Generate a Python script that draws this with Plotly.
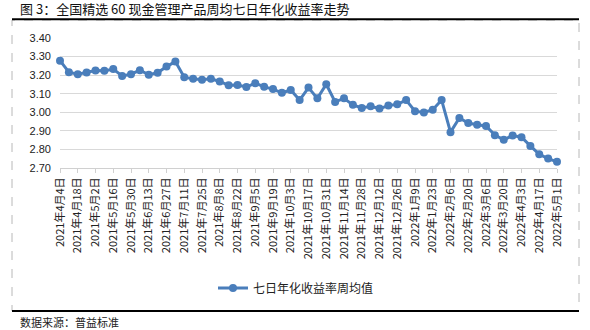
import pandas as pd
import plotly.graph_objects as go

# Weekly dates (Sundays) 2021-04-04 .. 2022-05-01
weeks = pd.date_range("2021-04-04", "2022-05-01", freq="7D")
categories = [f"{d.year}年{d.month}月{d.day}日" for d in weeks]

# Weekly average of 7-day annualised yield (%)
yield_avg = [
    3.278, 3.216, 3.205, 3.214, 3.225, 3.223, 3.233, 3.196, 3.205, 3.227,
    3.202, 3.213, 3.246, 3.273, 3.189, 3.180, 3.175, 3.180, 3.166, 3.145,
    3.147, 3.136, 3.157, 3.137, 3.125, 3.105, 3.120, 3.066, 3.133, 3.075,
    3.151, 3.056, 3.075, 3.040, 3.023, 3.032, 3.020, 3.036, 3.043, 3.066,
    3.006, 2.999, 3.014, 3.066, 2.893, 2.969, 2.942, 2.933, 2.926, 2.877,
    2.852, 2.875, 2.866, 2.819, 2.774, 2.751, 2.733,
]

y_ticks = [2.70, 2.80, 2.90, 3.00, 3.10, 3.20, 3.30, 3.40]

series_name = "七日年化收益率周均值"
title_text = "图 3：全国精选 60 现金管理产品周均七日年化收益率走势"
source_text = "数据来源：普益标准"

W, H = 590, 330
L, R, T, B = 60, 557, 38, 168  # plot area in pixels


def px(x):
    return (x - L) / (R - L)


def py(y):
    return (B - y) / (B - T)


CJK = "Noto Sans CJK SC"
LAT = "Liberation Sans"
BLUE = "#4a7ebb"

fig = go.Figure()
fig.add_trace(go.Scatter(
    x=categories, y=yield_avg, mode="lines+markers", name=series_name,
    line=dict(color=BLUE, width=3),
    marker=dict(color=BLUE, size=8),
    cliponaxis=False,
))

fig.update_layout(
    width=W, height=H,
    margin=dict(l=L, r=W - R, t=T, b=H - B),
    paper_bgcolor="white", plot_bgcolor="white",
    showlegend=True,
    legend=dict(
        orientation="h", x=px(296), xanchor="center", y=py(288), yanchor="middle",
        font=dict(family=CJK, size=12, color="#222"),
        bgcolor="rgba(0,0,0,0)",
    ),
    title=dict(
        text=title_text, xref="container", yref="container",
        x=20 / W, xanchor="left", y=1 - 9 / H, yanchor="middle",
        font=dict(family=CJK, size=13, color="#111"),
    ),
)

fig.update_xaxes(
    type="category", range=[0, len(categories) - 1],
    tickvals=categories[::2], ticktext=categories[::2],
    tickangle=-90, tickfont=dict(family=CJK, size=11, color="#222"),
    showgrid=False, showline=True, linecolor="#d0d0d0", linewidth=1,
    ticks="outside", ticklen=4, tickcolor="#d0d0d0",
    zeroline=False,
)
fig.update_yaxes(
    range=[2.70, 3.40], tickvals=y_ticks, tickformat=".2f",
    tickfont=dict(family=LAT, size=11, color="#222"),
    showgrid=True, gridcolor="#d9d9d9", gridwidth=1,
    showline=False, zeroline=False, ticks="", ticklabelstandoff=8,
)

# Frame: dashed box, black rule under the title and above the source line
fig.add_shape(type="rect", xref="paper", yref="paper",
              x0=px(12), x1=px(579), y0=py(311), y1=py(20),
              line=dict(color="#b8b8b8", width=1, dash="dash"), layer="below")
for yy in (19.3, 311):
    fig.add_shape(type="line", xref="paper", yref="paper",
                  x0=px(12), x1=px(579), y0=py(yy), y1=py(yy),
                  line=dict(color="black", width=2))

fig.add_annotation(
    text=source_text, xref="paper", yref="paper",
    x=px(18), y=py(322), xanchor="left", yanchor="middle", showarrow=False,
    font=dict(family=CJK, size=11, color="#222"),
)

fig.write_html("out.html")
